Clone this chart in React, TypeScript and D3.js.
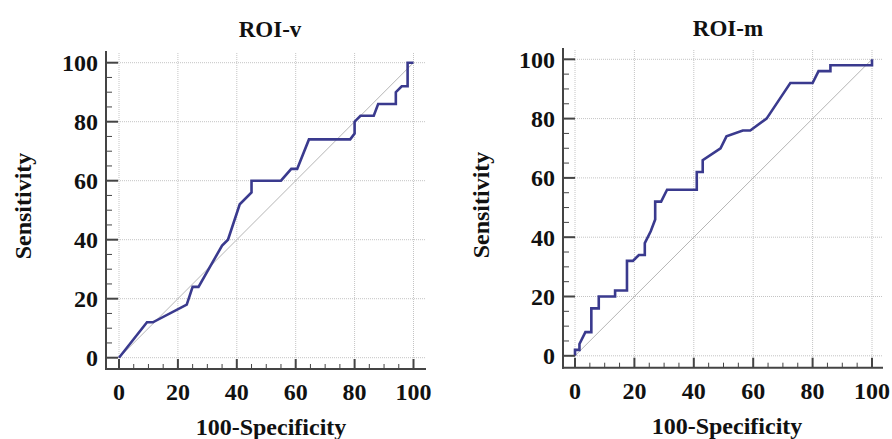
import React from "react";
import * as d3 from "d3";

const titles = ["ROI-v", "ROI-m"];
const xLabel = "100-Specificity";
const yLabel = "Sensitivity";
const tickValues = [0, 20, 40, 60, 80, 100];
const minorValues = d3.range(0, 101, 5);

// ROC curve points [100-Specificity, Sensitivity]
const roiV: [number, number][] = [
  [0, 0], [9.5, 12], [11.5, 12], [23, 18], [25, 24], [27, 24], [35, 38], [37, 40],
  [41, 52], [45, 56], [45, 60], [55, 60], [58.5, 64], [60.5, 64], [64.5, 74],
  [78.5, 74], [80, 76], [80, 80], [82, 82], [86.5, 82], [88, 86], [94, 86],
  [94, 90], [96, 92], [98, 92], [98, 100], [100, 100],
];
const roiM: [number, number][] = [
  [0, 0], [0, 2], [1.5, 2], [1.5, 4], [3.5, 8], [5.5, 8], [5.5, 16], [8, 16],
  [8, 20], [13.5, 20], [13.5, 22], [17.5, 22], [17.5, 32], [19.5, 32], [21.5, 34],
  [23.5, 34], [23.5, 38], [25.5, 42], [27, 46], [27, 52], [29, 52], [31, 56],
  [41, 56], [41, 62], [43, 62], [43, 66], [49, 70], [51, 74], [56.5, 76], [59, 76],
  [64.5, 80], [69.5, 87.5], [72.5, 92], [80, 92], [82, 96], [86, 96], [86, 98],
  [100, 98], [100, 100],
];

type Layout = {
  x0: number; x1: number; y0: number; y1: number;
  axisX: number; axisY: number; top: number; right: number;
  titleX: number; titleY: number; ylabX: number; ylabY: number; xlabX: number;
};

const layouts: Layout[] = [
  { x0: 119, x1: 413.5, y0: 357.7, y1: 62.7, axisX: 106, axisY: 369, top: 51, right: 426,
    titleX: 270, titleY: 37, ylabX: 31, ylabY: 206, xlabX: 271 },
  { x0: 575, x1: 872, y0: 355.8, y1: 59.3, axisX: 563, axisY: 367.7, top: 48, right: 883,
    titleX: 728, titleY: 36, ylabX: 489, ylabY: 205, xlabX: 727 },
];

const FONT = "'Liberation Serif', 'Times New Roman', serif";
const CURVE = "#3a3a8e";

function Panel({ title, data, L }: { title: string; data: [number, number][]; L: Layout }) {
  const x = d3.scaleLinear().domain([0, 100]).range([L.x0, L.x1]);
  const y = d3.scaleLinear().domain([0, 100]).range([L.y0, L.y1]);
  const line = d3.line<[number, number]>().x(d => x(d[0])).y(d => y(d[1]));
  return (
    <g>
      {tickValues.map(v => (
        <line key={"gh" + v} x1={L.axisX} x2={L.right - 1} y1={y(v)} y2={y(v)}
          stroke="#c4c4c4" strokeWidth={1} strokeDasharray="1,1" />
      ))}
      {tickValues.map(v => (
        <line key={"gv" + v} x1={x(v)} x2={x(v)} y1={L.top + 2} y2={L.axisY}
          stroke="#c4c4c4" strokeWidth={1} strokeDasharray="1,1" />
      ))}
      <line x1={x(0)} y1={y(0)} x2={x(100)} y2={y(100)} stroke="#b5b5b5" strokeWidth={1} />
      <path d={line(data) || ""} fill="none" stroke={CURVE} strokeWidth={2.6} strokeLinejoin="miter" />
      <line x1={L.axisX} x2={L.axisX} y1={L.top} y2={L.axisY + 1} stroke="#444" strokeWidth={2} />
      <line x1={L.axisX - 1} x2={L.right} y1={L.axisY} y2={L.axisY} stroke="#444" strokeWidth={2} />
      {minorValues.map(v => {
        const major = v % 20 === 0;
        return (
          <g key={"t" + v}>
            <line x1={L.axisX} x2={L.axisX + (major ? 12 : 6)} y1={y(v)} y2={y(v)}
              stroke="#444" strokeWidth={major ? 2 : 1} />
            <line x1={x(v)} x2={x(v)} y1={L.axisY} y2={L.axisY - (major ? 10 : 5)}
              stroke="#444" strokeWidth={major ? 2 : 1} />
          </g>
        );
      })}
      {tickValues.map(v => (
        <text key={"yl" + v} x={L.axisX - 8} y={y(v)} dy="0.35em" textAnchor="end"
          fontFamily={FONT} fontWeight="bold" fontSize={24} fill="#111">{v}</text>
      ))}
      {tickValues.map(v => (
        <text key={"xl" + v} x={x(v)} y={L.axisY + 31} textAnchor="middle"
          fontFamily={FONT} fontWeight="bold" fontSize={24} fill="#111">{v}</text>
      ))}
      <text x={L.titleX} y={L.titleY} textAnchor="middle" fontFamily={FONT} fontWeight="bold"
        fontSize={23} fill="#111">{title}</text>
      <text x={L.xlabX} y={L.axisY + 66} textAnchor="middle" fontFamily={FONT}
        fontWeight="bold" fontSize={24} fill="#111">{xLabel}</text>
      <text transform={`translate(${L.ylabX},${L.ylabY}) rotate(-90)`} textAnchor="middle"
        fontFamily={FONT} fontWeight="bold" fontSize={24} fill="#111">{yLabel}</text>
    </g>
  );
}

export default function App() {
  const series = [roiV, roiM];
  return (
    <svg width={892} height={439} style={{ position: "absolute", left: 0, top: 0, background: "#fff" }}>
      <rect width={892} height={439} fill="#fff" />
      {titles.map((t, i) => (
        <Panel key={t} title={t} data={series[i]} L={layouts[i]} />
      ))}
    </svg>
  );
}
